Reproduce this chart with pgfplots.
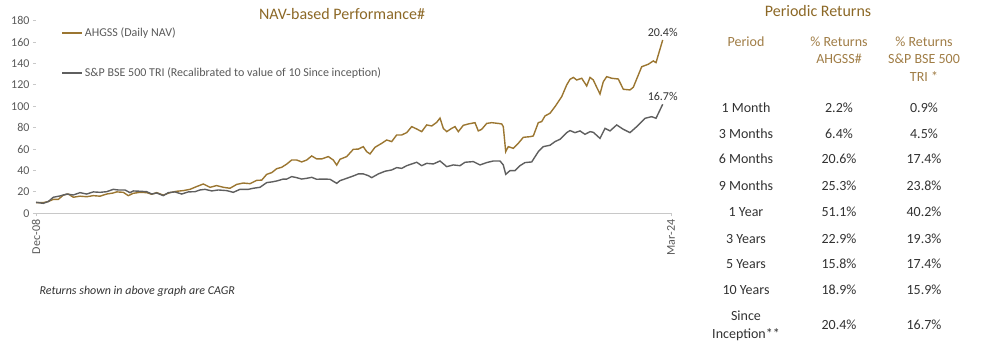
\documentclass[border=0pt]{standalone}
\usepackage{pgfplots}
\pgfplotsset{compat=1.18}
\usepackage{fontspec}
\setmainfont{Carlito}
\definecolor{brownline}{RGB}{155,118,49}
\definecolor{browntitle}{RGB}{140,104,38}
\definecolor{brownhead}{RGB}{160,125,70}
\definecolor{grayline}{RGB}{95,95,95}
\definecolor{ticklab}{RGB}{89,89,89}
\definecolor{axisgray}{RGB}{200,200,200}
\definecolor{tabtext}{RGB}{50,50,50}
\newcommand\tabfont{\fontsize{14bp}{18bp}\selectfont}
\newcommand\lblfont{\fontsize{12bp}{14bp}\selectfont}
\begin{document}
\begin{tikzpicture}
\path[use as bounding box] (0,0) rectangle (981bp,353bp);
\begin{axis}[
 at={(36bp,139.7bp)}, anchor=south west,
 scale only axis, width=635bp, height=192.6bp,
 xmin=0,xmax=635,ymin=0,ymax=180,
 axis x line*=bottom, axis y line*=left,
 x axis line style={draw=axisgray, line width=0.8bp, -},
 y axis line style={draw=none, -},
 xtick={0,635}, xticklabels={Dec-08,Mar-24},
 ytick={0,20,...,180},
 tick align=outside, major tick length=3bp,
 tick style={draw=axisgray, line width=0.8bp},
 x tick label style={rotate=90, anchor=east, font=\lblfont, text=ticklab},
 y tick label style={font=\lblfont, text=ticklab},
 /pgf/number format/assume math mode=true,
 clip=false,
 legend style={at={(0.04,0.975)}, anchor=north west, draw=none, fill=none,
   font=\lblfont, text=ticklab, row sep=26bp, inner sep=0pt},
 legend cell align=left,
 legend image code/.code={\draw[#1] (0bp,0bp) -- (20bp,0bp);},
]
\addplot[brownline, line width=1.4bp] coordinates {
(0,10)(7.3,10)(12.3,11)(17.3,13)(22.3,13)(27.3,17)(32.3,18)(37.3,15)(44,16)(50.7,15.5)(57.3,16.5)(64,16)(70.7,18)(77.3,19)(80.7,20)(87.3,19.6)(92.3,16.5)(97.3,18.7)(104,19.6)(110.7,19.3)(115.7,17.8)(120.7,19.3)(127.3,17)(134,19.3)(140.7,20.6)(147.3,21.2)(154,22.4)(160.7,25)(167.3,27.4)(174,24.3)(180.7,25.9)(187.3,24.3)(194,23.4)(200.7,27)(207.3,28.3)(214,27.7)(220.7,30.8)(225.7,31)(230.7,36.4)(235.7,38)(240.7,41.7)(245.7,43)(250.7,46)(255.7,49.8)(260.7,49.8)(265.7,48)(270.7,49.8)(275.7,53.6)(280.7,50.8)(285.7,50.8)(292.3,53)(297.3,49.8)(300.7,45)(304,50.5)(310.7,53)(317.3,59.8)(322.3,60)(327.3,62.3)(330.7,57.6)(334,55.5)(339,61.7)(345.7,65.4)(350.7,68.5)(355.7,67)(360.7,73.2)(365.7,73.2)(370.7,75.4)(375.7,81)(380.7,78.8)(385.7,76.3)(390.7,82.6)(395.7,81.6)(400.7,85)(404,89)(407.3,79.4)(410.7,76.3)(415.7,79.4)(419,81)(422.3,76.3)(427.3,82.2)(432.3,83.5)(439,84.7)(442.3,77)(445.7,78.5)(450.7,84)(455.7,84.7)(462.3,84)(465.7,83.5)(467.3,81)(469.7,57.6)(472.3,62.3)(477.3,60.7)(482.3,65.4)(487.3,71)(494,71.6)(497.3,72.3)(502.3,84.7)(505.7,85.7)(509,91)(514,93.5)(519,99.7)(525.7,109)(530.7,120)(534,125.2)(537.3,127)(540.7,124.6)(545.7,126.2)(550.7,119)(554,127)(557.3,124.6)(560.7,117.8)(564,111.5)(567.3,123)(570.7,127.7)(575.7,126.2)(582.3,125.5)(587.3,115.9)(594,115.3)(597.3,117.8)(605.7,137)(612.3,139.3)(617.3,142.4)(620,140.8)(626.7,162)
};
\addlegendentry{AHGSS (Daily NAV)}
\addplot[grayline, line width=1.4bp] coordinates {
(0,10.3)(7.3,9.3)(12.3,11)(17.3,15)(24,16.2)(30.7,18)(37.3,17.1)(44,19.3)(50.7,18)(57.3,20)(64,19.6)(70.7,20.2)(77.3,22.4)(82.3,21.8)(89,21.8)(94,19.3)(97.3,20.9)(104,20.6)(110.7,20.2)(115.7,18)(120.7,19)(127.3,16.5)(132.3,19.3)(139,20)(145.7,18)(152.3,20)(159,20.2)(164,21.8)(169,22.4)(175.7,20.9)(182.3,21.8)(190.7,21.2)(197.3,19.6)(204,22.4)(212.3,22.4)(217.3,23.4)(224,24.3)(230.7,28.7)(235.7,29.3)(240.7,30.2)(247.3,32)(250.7,32)(255.7,34.3)(260.7,33.3)(265.7,32)(270.7,32.7)(275.7,33.6)(280.7,31.8)(287.3,32)(294,31.8)(300.7,28)(304,30.5)(310.7,32.7)(317.3,34.9)(322.3,36.8)(327.3,36.8)(332.3,35.2)(335.7,33.3)(342.3,36.8)(349,39.3)(355.7,40.5)(360.7,42.7)(365.7,42)(370.7,44.5)(375.7,46.1)(380.7,47.7)(385.7,44.5)(390.7,46.7)(397.3,46.1)(404,48.9)(410.7,43.6)(417.3,45.2)(424,44.5)(429,47.7)(437.3,48.3)(444,45.2)(450.7,47.4)(457.3,48.9)(464,48.9)(467.3,45.2)(469.7,36.4)(474,39.9)(479,39.9)(484,44.5)(489,47.4)(495.7,48)(502.3,57.6)(507.3,62.3)(514,63.6)(519,67)(524,69.2)(530.7,75.4)(534,77.3)(539,75.4)(544,77)(549,73.8)(554,76.3)(557.3,75.7)(564,70)(569,79.4)(574,77)(580.7,82.6)(587.3,78.5)(594,75.4)(600.7,81)(609,88.8)(615.7,90.3)(620,88.8)(626.7,101.9)
};
\addlegendentry{S\&P BSE 500 TRI (Recalibrated to value of 10 Since inception)}
\node[anchor=south, font=\lblfont, text=tabtext] at (axis cs:626.7,162) {20.4\%};
\node[anchor=south, font=\lblfont, text=tabtext] at (axis cs:626.7,101.9) {16.7\%};
\end{axis}
% titles
\node[anchor=base, font=\fontsize{16bp}{18bp}\selectfont, text=browntitle] at (342bp,333.5bp) {NAV-based Performance\#};
\node[anchor=base, font=\fontsize{16bp}{18bp}\selectfont, text=browntitle] at (818bp,336.3bp) {Periodic Returns};
\node[anchor=base west, font=\fontsize{12bp}{14bp}\itshape, text=tabtext] at (36bp,58bp) {Returns shown in above graph are CAGR};
% table header
\begin{scope}[every node/.style={anchor=base, font=\tabfont, text=brownhead, inner sep=0pt}]
\node at (746bp,306.8bp) {Period};
\node at (839bp,306.8bp) {\% Returns};
\node at (839bp,289.2bp) {AHGSS\#};
\node at (924bp,306.8bp) {\% Returns};
\node at (924bp,289.2bp) {S\&P BSE 500};
\node at (924bp,271.2bp) {TRI *};
\end{scope}
\begin{scope}[every node/.style={anchor=base, font=\tabfont, text=tabtext, inner sep=0pt}]
\node at (746bp,240.8bp) {1 Month};   \node at (839bp,240.8bp) {2.2\%};  \node at (924bp,240.8bp) {0.9\%};
\node at (746bp,214.5bp) {3 Months};  \node at (839bp,214.5bp) {6.4\%};  \node at (924bp,214.5bp) {4.5\%};
\node at (746bp,189.2bp) {6 Months};  \node at (839bp,189.2bp) {20.6\%}; \node at (924bp,189.2bp) {17.4\%};
\node at (746bp,162.8bp) {9 Months};  \node at (839bp,162.8bp) {25.3\%}; \node at (924bp,162.8bp) {23.8\%};
\node at (746bp,136.2bp) {1 Year};    \node at (839bp,136.2bp) {51.1\%}; \node at (924bp,136.2bp) {40.2\%};
\node at (746bp,109.5bp) {3 Years};   \node at (839bp,109.5bp) {22.9\%}; \node at (924bp,109.5bp) {19.3\%};
\node at (746bp,84.2bp) {5 Years};    \node at (839bp,84.2bp) {15.8\%};  \node at (924bp,84.2bp) {17.4\%};
\node at (746bp,58.5bp) {10 Years};   \node at (839bp,58.5bp) {18.9\%};  \node at (924bp,58.5bp) {15.9\%};
\node at (746bp,32.5bp) {Since};
\node at (746bp,14.2bp) {Inception**};
\node at (839bp,23.2bp) {20.4\%}; \node at (924bp,23.2bp) {16.7\%};
\end{scope}
\end{tikzpicture}
\end{document}
